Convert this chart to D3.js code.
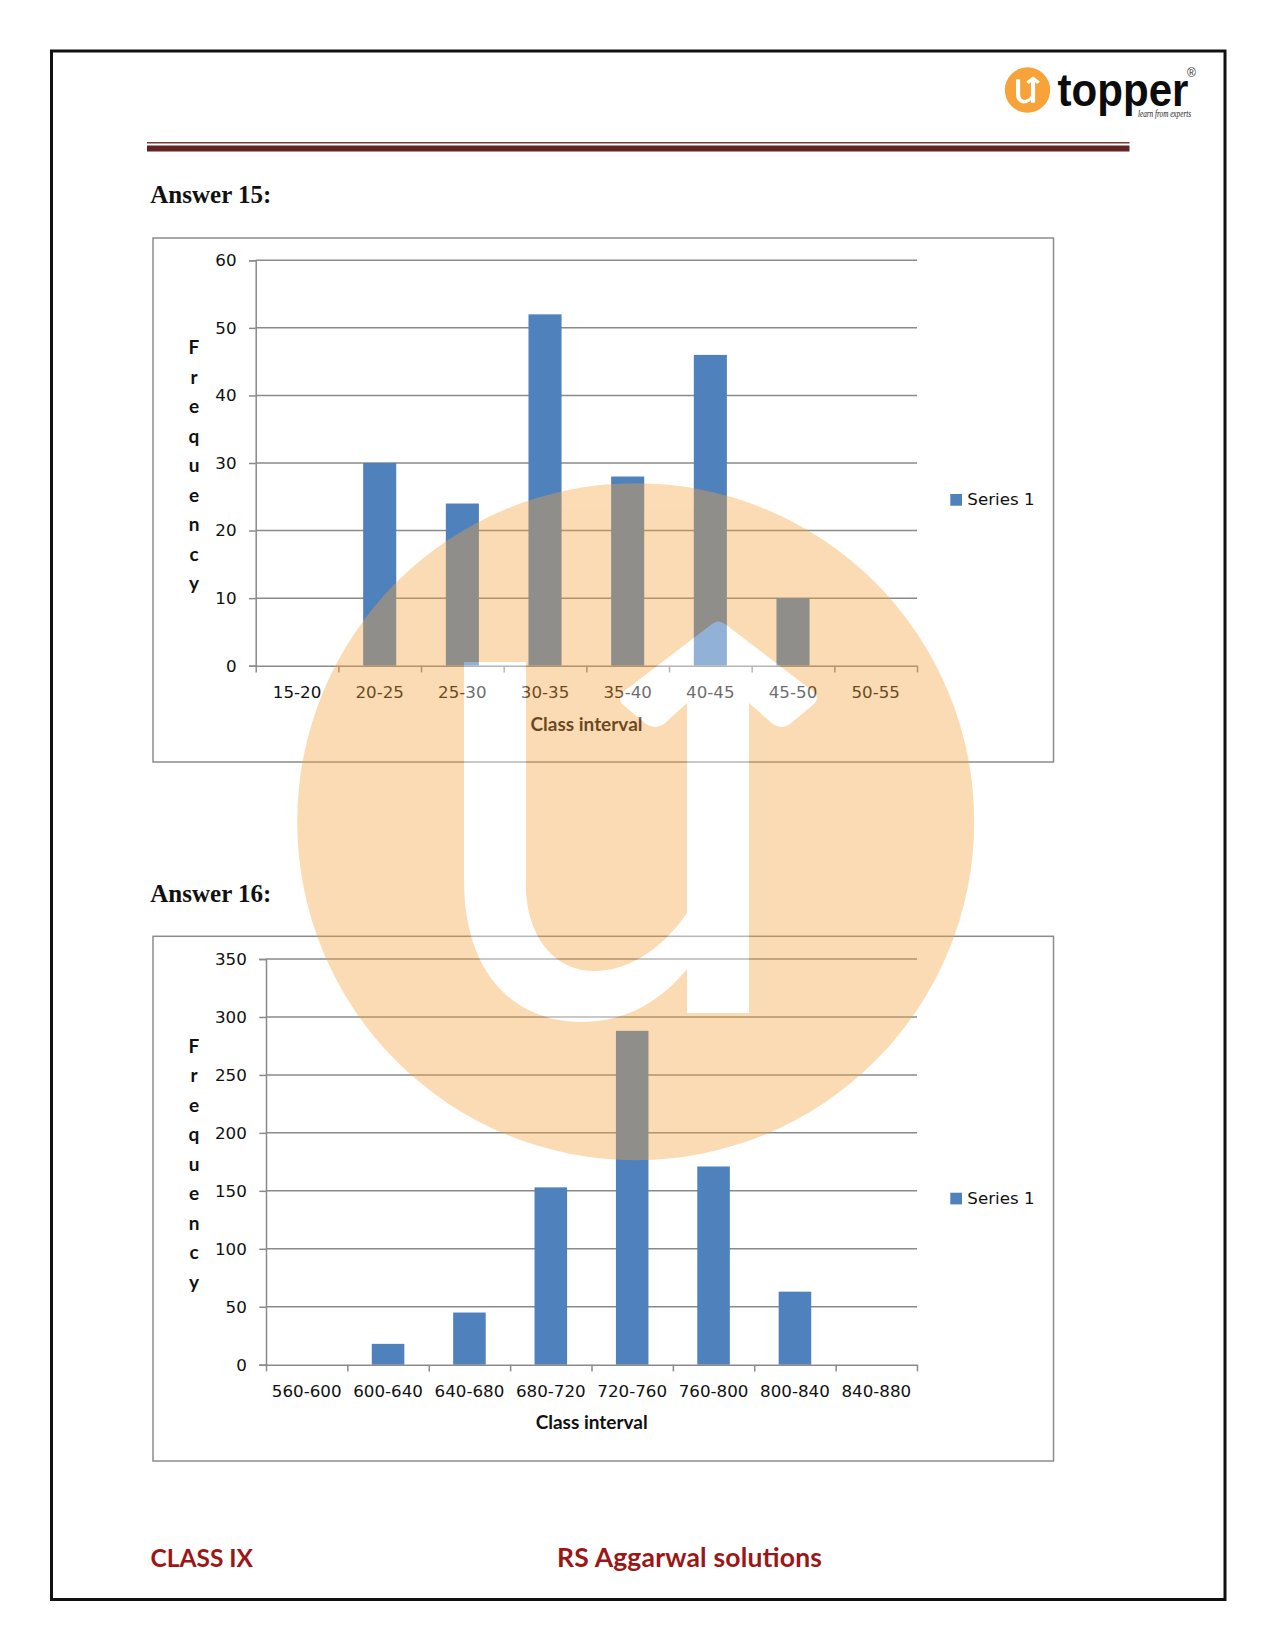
<!DOCTYPE html>
<html>
<head>
<meta charset="utf-8">
<script src="https://cdn.jsdelivr.net/npm/d3@7"></script>
<style>
html,body{margin:0;padding:0;background:#fff}
svg{display:block}
.tick-label{font-family:"DejaVu Sans",sans-serif;font-size:16.7px;fill:#111}
.axis-title{font-family:Lato,sans-serif;font-weight:700;font-size:19px;fill:#111}
.heading{font-family:"Liberation Serif",serif;font-weight:700;font-size:25px;fill:#111}
.footer{font-family:Lato,sans-serif;font-weight:700;fill:#9c1616}
</style>
</head>
<body>
<div id="page"></div>
<script>
const categories15 = ["15-20","20-25","25-30","30-35","35-40","40-45","45-50","50-55"];
const values15 = [0,30,24,52,28,46,10,0];
const yTicks15 = [0,10,20,30,40,50,60];
const categories16 = ["560-600","600-640","640-680","680-720","720-760","760-800","800-840","840-880"];
const values16 = [0,18,45,153,288,171,63,0];
const yTicks16 = [0,50,100,150,200,250,300,350];
const seriesName = "Series 1";
const xTitle = "Class interval";
const yTitle = "Frequency";

const W = 1275, H = 1650;
const BLUE = "#4f81bd", GRID = "#8a8a8a", ORANGE = "#f7a33a";
const svg = d3.select("#page").append("svg").attr("width", W).attr("height", H).attr("viewBox", `0 0 ${W} ${H}`);
svg.append("rect").attr("width", W).attr("height", H).attr("fill", "#fff");

// page frame
svg.append("rect").attr("x", 51.5).attr("y", 51).attr("width", 1173.5).attr("height", 1548.5)
  .attr("fill", "none").attr("stroke", "#111").attr("stroke-width", 3);

// header rule
svg.append("rect").attr("x", 147).attr("y", 142).attr("width", 982.5).attr("height", 1.5).attr("fill", "#7a3a38");
svg.append("rect").attr("x", 147).attr("y", 145.5).attr("width", 982.5).attr("height", 6).attr("fill", "#622423");

// U arrow mark, in watermark coordinates
const markPath = "M464,662 L526,662 L526,893 C530,945 560,971 594,971 C632,971 665,945 687,913 L687,703 L664,724 Q655,730 646,724 L622,704 Q617,698 623,692 L712,624 Q718,619 725,624 L814,692 Q820,698 814,704 L790,724 Q782,730 773,724 L749,703 L749,1013 L687,1013 L687,969 C660,1002 625,1022 582,1022 C515,1022 464,975 464,880 Z";
const markCx = 635.7, markCy = 821.7, markR = 338.5;

// logo
const logo = svg.append("g");
const logoCx = 1027.5, logoCy = 90, logoR = 22.7, logoK = logoR / markR;
logo.append("circle").attr("cx", logoCx).attr("cy", logoCy).attr("r", logoR).attr("fill", ORANGE);
logo.append("path").attr("d", markPath).attr("fill", "#fff")
  .attr("transform", `translate(${logoCx},${logoCy}) scale(${logoK}) translate(${-markCx},${-markCy})`);
logo.append("text").attr("x", 1057.5).attr("y", 106).attr("textLength", 131).attr("lengthAdjust", "spacingAndGlyphs")
  .style("font-family", "'Liberation Sans',sans-serif").style("font-weight", 700).style("font-size", "47px").attr("fill", "#0c0c0c").text("topper");
logo.append("text").attr("x", 1138).attr("y", 117).attr("textLength", 53).attr("lengthAdjust", "spacingAndGlyphs")
  .style("font-family", "'Liberation Serif',serif").style("font-style", "italic").style("font-size", "9.5px").attr("fill", "#222").text("learn from experts");
logo.append("text").attr("x", 1191.5).attr("y", 76.5).attr("text-anchor", "middle")
  .style("font-family", "'Liberation Sans',sans-serif").style("font-size", "12px").attr("fill", "#333").text("®");

function drawChart(cfg) {
  const g = svg.append("g");
  g.append("text").attr("class", "heading").attr("x", 150.3).attr("y", cfg.headingY).text(cfg.heading);
  g.append("rect").attr("x", 153).attr("y", cfg.frameTop).attr("width", 900.5).attr("height", cfg.frameBottom - cfg.frameTop)
    .attr("fill", "none").attr("stroke", "#8c8c8c").attr("stroke-width", 1.5);

  const x = d3.scaleBand().domain(cfg.categories).range([cfg.left, cfg.right]).paddingInner(0.6).paddingOuter(0.3);
  const xEdge = d3.scaleLinear().domain([0, cfg.categories.length]).range([cfg.left, cfg.right]);
  const y = d3.scaleLinear().domain([0, d3.max(cfg.yTicks)]).range([cfg.bottom, cfg.top]);

  // gridlines
  g.append("g").selectAll("line").data(cfg.yTicks.filter(d => d > 0)).join("line")
    .attr("x1", cfg.left).attr("x2", cfg.right).attr("y1", d => y(d)).attr("y2", d => y(d))
    .attr("stroke", GRID).attr("stroke-width", 1.5);

  // bars
  g.append("g").selectAll("rect").data(cfg.values).join("rect")
    .attr("x", (d, i) => x(cfg.categories[i])).attr("width", x.bandwidth())
    .attr("y", d => y(d)).attr("height", d => y(0) - y(d)).attr("fill", BLUE);

  // y axis
  const yAxis = g.append("g").attr("transform", `translate(${cfg.left},0)`)
    .call(d3.axisLeft(y).tickValues(cfg.yTicks).tickFormat(d3.format("d")).tickSize(6.7).tickPadding(12.5));
  yAxis.selectAll("path,line").attr("stroke", GRID).attr("stroke-width", 1.5);
  yAxis.selectAll("text").attr("class", "tick-label").attr("dy", "0.32em").attr("fill", null);

  // x axis: tick marks on the band edges, labels in the band centres
  const xAxis = g.append("g").attr("transform", `translate(0,${cfg.bottom})`)
    .call(d3.axisBottom(xEdge).tickValues(d3.range(0, cfg.categories.length + 1)).tickFormat("").tickSizeInner(6.7).tickSizeOuter(0));
  xAxis.selectAll("path,line").attr("stroke", GRID).attr("stroke-width", 1.5);
  const xLabels = g.append("g").attr("transform", `translate(0,${cfg.bottom})`)
    .call(d3.axisBottom(x).tickSize(0).tickPadding(0));
  xLabels.select("path").remove();
  xLabels.selectAll("text").attr("class", "tick-label").attr("fill", null).attr("y", 32.6).attr("dy", 0);

  // titles
  g.append("text").attr("class", "axis-title").attr("x", cfg.titleX).attr("y", cfg.titleY)
    .attr("text-anchor", "middle").text(xTitle);
  g.append("g").selectAll("text").data(Array.from(yTitle)).join("text")
    .attr("class", "axis-title").attr("x", 194).attr("y", (d, i) => cfg.freqY + i * 29.5)
    .attr("text-anchor", "middle").text(d => d);

  // legend
  g.append("rect").attr("x", 950.3).attr("y", cfg.legendY).attr("width", 11.7).attr("height", 11.7).attr("fill", BLUE);
  g.append("text").attr("class", "tick-label").attr("x", 967.3).attr("y", cfg.legendY + 11.2).text(seriesName);
}

drawChart({heading:"Answer 15:", headingY:202.6, frameTop:238, frameBottom:762,
  categories:categories15, values:values15, yTicks:yTicks15,
  left:255.7, right:917, top:260.3, bottom:665.7, titleX:586.5, titleY:730.7, freqY:354, legendY:494});
drawChart({heading:"Answer 16:", headingY:901.6, frameTop:936.3, frameBottom:1461,
  categories:categories16, values:values16, yTicks:yTicks16,
  left:266, right:917, top:959, bottom:1364.7, titleX:591.7, titleY:1429.3, freqY:1052.7, legendY:1192.7});

// footer
svg.append("text").attr("class", "footer").attr("x", 150.5).attr("y", 1567).style("font-size", "24.5px").text("CLASS IX");
svg.append("text").attr("class", "footer").attr("x", 557).attr("y", 1567).style("font-size", "26.5px")
  .attr("textLength", 265).attr("lengthAdjust", "spacing").text("RS Aggarwal solutions");

// watermark sits over everything at the same opacity
const wm = svg.append("g").attr("opacity", 0.38);
wm.append("circle").attr("cx", markCx).attr("cy", markCy).attr("r", markR).attr("fill", ORANGE);
wm.append("path").attr("d", markPath).attr("fill", "#fff");
</script>
</body>
</html>
